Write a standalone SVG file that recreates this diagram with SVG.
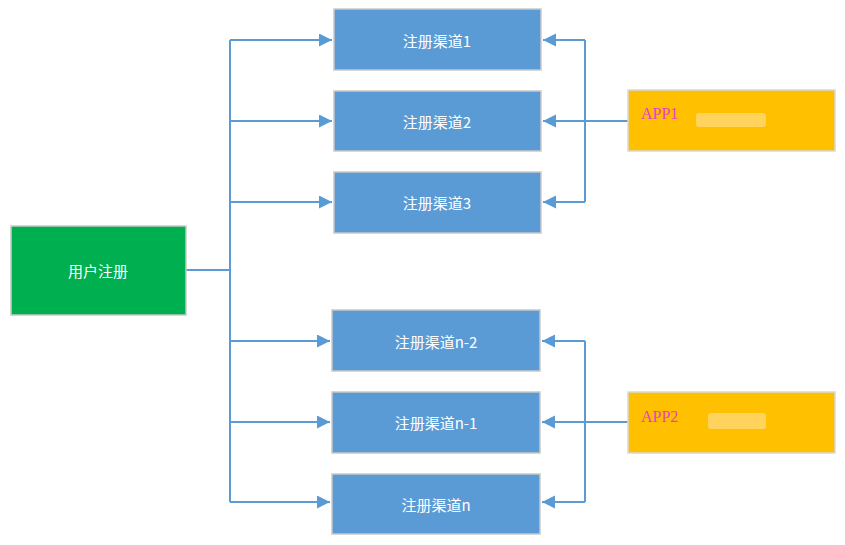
<svg xmlns="http://www.w3.org/2000/svg" width="845" height="545" viewBox="0 0 845 545">
<style>
.b{fill:#5b9bd5;stroke:#c9c9c9;stroke-width:1.5}
.g{fill:#00b050;stroke:#c9c9c9;stroke-width:1.5}
.y{fill:#ffc000;stroke:#d9d9d9;stroke-width:1.5}
.t{font-family:"Noto Sans CJK SC","Liberation Sans",sans-serif;font-size:15px;fill:#fff;text-anchor:middle;dominant-baseline:central}
.a{font-family:"Liberation Serif",serif;font-size:16px;fill:#e83ec8}
.c path{fill:none;stroke:#5b9bd5;stroke-width:2}
</style>
<defs><marker id="m" markerWidth="14" markerHeight="14" refX="13" refY="6.5" orient="auto" markerUnits="userSpaceOnUse"><path d="M0,0L13,6.5L0,13z" fill="#5b9bd5"/></marker></defs>
<g class="c">
<path d="M186,270H230"/>
<path d="M230,40V502"/>
<path d="M230,40H332" marker-end="url(#m)"/>
<path d="M230,121H332" marker-end="url(#m)"/>
<path d="M230,202H332" marker-end="url(#m)"/>
<path d="M230,341H330" marker-end="url(#m)"/>
<path d="M230,422H330" marker-end="url(#m)"/>
<path d="M230,502H330" marker-end="url(#m)"/>
<path d="M585,40V202"/>
<path d="M585,40H543" marker-end="url(#m)"/>
<path d="M628,121H543" marker-end="url(#m)"/>
<path d="M585,202H543" marker-end="url(#m)"/>
<path d="M585,341V502"/>
<path d="M585,341H542" marker-end="url(#m)"/>
<path d="M628,422H542" marker-end="url(#m)"/>
<path d="M585,502H542" marker-end="url(#m)"/>
</g>
<g id="user"><rect class="g" x="11" y="226" width="175" height="89"/><text class="t" x="98" y="270">用户注册</text></g>
<g id="c1"><rect class="b" x="334" y="9" width="207" height="61"/><text class="t" x="437" y="40">注册渠道1</text></g>
<g id="c2"><rect class="b" x="334" y="91" width="207" height="60"/><text class="t" x="437" y="121">注册渠道2</text></g>
<g id="c3"><rect class="b" x="334" y="172" width="207" height="61"/><text class="t" x="437" y="202">注册渠道3</text></g>
<g id="cn2"><rect class="b" x="332" y="310" width="208" height="61"/><text class="t" x="436" y="341">注册渠道n-2</text></g>
<g id="cn1"><rect class="b" x="332" y="392" width="208" height="61"/><text class="t" x="436" y="422">注册渠道n-1</text></g>
<g id="cn"><rect class="b" x="332" y="474" width="208" height="60"/><text class="t" x="436" y="504">注册渠道n</text></g>
<g id="app1"><rect class="y" x="628" y="90" width="207" height="61"/><text class="a" x="641" y="119">APP1</text><rect x="696" y="113" width="70" height="14" rx="3" fill="#ffd35c"/></g>
<g id="app2"><rect class="y" x="628" y="392" width="207" height="61"/><text class="a" x="641" y="422">APP2</text><rect x="708" y="413" width="58" height="16" rx="3" fill="#ffd35c"/></g>
</svg>
